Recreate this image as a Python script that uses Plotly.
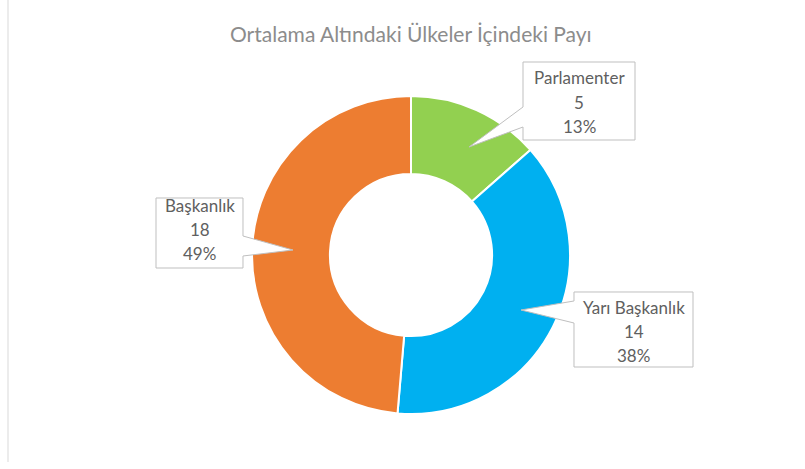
import plotly.graph_objects as go

# ---- data ----
categories = ["Parlamenter", "Yarı Başkanlık", "Başkanlık"]
values = [5, 14, 18]
percent_labels = ["13%", "38%", "49%"]
colors = ["#92D050", "#00B0F0", "#ED7D31"]
title_text = "Ortalama Altındaki Ülkeler İçindeki Payı"

W, H = 805, 469

def px(x):
    return x / W

def py(y):
    return 1 - y / H

# donut placement (pixels)
cx, cy, R = 411, 255, 159

fig = go.Figure()
fig.add_trace(go.Pie(
    labels=categories,
    values=values,
    sort=False,
    direction="clockwise",
    rotation=0,
    hole=0.51,
    marker=dict(colors=colors, line=dict(color="white", width=2)),
    textinfo="none",
    hoverinfo="label+value+percent",
    showlegend=False,
    domain=dict(x=[px(cx - R), px(cx + R)], y=[py(cy + R), py(cy - R)]),
))

# callout layout (pixels): box left, top, right, bottom, wedge attach y1, y2, tip x, tip y, line centers
callouts = [
    dict(box=(523, 62, 635, 140), side="left", wy=(107, 127), tip=(469, 147), lines=(77, 102, 126)),
    dict(box=(574, 292, 693, 367), side="left", wy=(301, 323), tip=(521, 310), lines=(307, 331, 355)),
    dict(box=(156, 198, 243, 268), side="right", wy=(236, 256), tip=(293, 250), lines=(206, 229, 253)),
]

shapes = []
annotations = []
for i, c in enumerate(callouts):
    l, t, r, b = c["box"]
    y1, y2 = c["wy"]
    tx, ty = c["tip"]
    if c["side"] == "left":
        pts = [(l, t), (r, t), (r, b), (l, b), (l, y2), (tx, ty), (l, y1)]
    else:
        pts = [(l, t), (r, t), (r, y1), (tx, ty), (r, y2), (r, b), (l, b)]
    path = "M " + " L ".join(f"{px(x):.5f},{py(y):.5f}" for x, y in pts) + " Z"
    shapes.append(dict(type="path", xref="paper", yref="paper", path=path,
                       fillcolor="white", line=dict(color="#BFBFBF", width=1), layer="above"))
    texts = [categories[i], str(values[i]), percent_labels[i]]
    xc = (l + r) / 2
    for txt, yy in zip(texts, c["lines"]):
        annotations.append(dict(x=px(xc), y=py(yy), xref="paper", yref="paper",
                                text=txt, showarrow=False, xanchor="center", yanchor="middle",
                                font=dict(family="Lato", size=17, color="#606060")))

# left border line
shapes.append(dict(type="line", xref="paper", yref="paper", x0=px(8), x1=px(8), y0=py(462), y1=py(0),
                   line=dict(color="#D9D9D9", width=1), layer="below"))

annotations.append(dict(x=px(411), y=py(33), xref="paper", yref="paper", text=title_text,
                        showarrow=False, xanchor="center", yanchor="middle",
                        font=dict(family="Lato", size=21, color="#8C8C8C")))

fig.update_layout(
    width=W, height=H,
    margin=dict(l=0, r=0, t=0, b=0),
    paper_bgcolor="white",
    plot_bgcolor="white",
    shapes=shapes,
    annotations=annotations,
)

fig.write_html("out.html", config={"displayModeBar": False},
               post_script="document.body.style.margin='0';")
